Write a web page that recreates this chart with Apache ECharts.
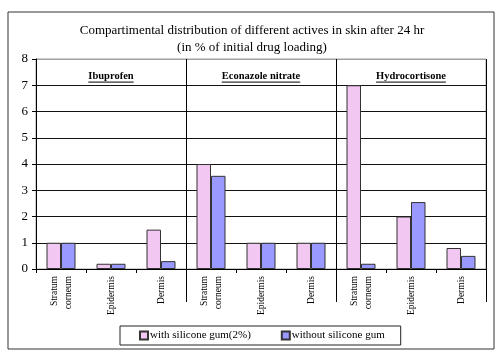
<!DOCTYPE html>
<html><head><meta charset="utf-8">
<script src="https://cdn.jsdelivr.net/npm/echarts@6/dist/echarts.min.js"></script>
<style>html,body{margin:0;padding:0;background:#fff}#c{width:504px;height:355px}</style>
</head><body><div id="c"></div>
<script>
const categories = ['Stratum\ncorneum','Epidermis','Dermis','Stratum\ncorneum','Epidermis','Dermis','Stratum\ncorneum','Epidermis','Dermis'];
const groups = ['Ibuprofen','Econazole nitrate','Hydrocortisone'];
const withGum = [1, 0.2, 1.5, 4, 1, 1, 7, 2, 0.8];
const withoutGum = [1, 0.2, 0.3, 3.55, 1, 1, 0.2, 2.55, 0.5];
const yTicks = [0,1,2,3,4,5,6,7,8];
const seriesNames = ['with silicone gum(2%)','without silicone gum'];

const FONT = 'Liberation Serif, Times New Roman, serif';
const chart = echarts.init(document.getElementById('c'));
const gridColors = yTicks.map((v,i)=> i===yTicks.length-1 ? '#a0a0a0' : '#111');
const sepFn = (i)=> i===3 || i===6;

chart.setOption({
  animation:false,
  backgroundColor:'#fff',
  title:{text:'Compartimental distribution of different actives in skin after 24 hr\n(in % of initial drug loading)',
    left:'center', top:17,
    textStyle:{fontFamily:FONT,fontSize:13,fontWeight:'normal',color:'#000',lineHeight:17}},
  grid:{left:36,right:18,top:59,bottom:86,show:true,borderColor:'#a0a0a0',borderWidth:1},
  legend:{data:seriesNames,left:120,top:326,icon:'rect',
    borderColor:'#222',borderWidth:1,padding:[4,16,4,19],itemGap:30,
    itemWidth:8,itemHeight:8,
    textStyle:{fontFamily:FONT,fontSize:11,color:'#000',padding:[0,0,0,-3]}},
  xAxis:[{type:'category',data:categories,
    axisLine:{lineStyle:{color:'#000'}},
    axisTick:{show:true,length:4,lineStyle:{color:'#000'}},
    splitLine:{show:true,interval:sepFn,lineStyle:{color:'#000'}},
    axisLabel:{rotate:90,fontFamily:FONT,fontSize:9.5,color:'#000',margin:7,lineHeight:14,interval:0}},
   {type:'category',data:categories,position:'bottom',
    axisLine:{show:false},axisLabel:{show:false},
    axisTick:{show:true,interval:sepFn,length:33,lineStyle:{color:'#000'}}}],
  yAxis:{type:'value',min:0,max:8,interval:1,
    axisLine:{show:true,lineStyle:{color:'#000'}},
    axisTick:{show:true,length:4,lineStyle:{color:'#000'}},
    splitLine:{show:true,lineStyle:{color:gridColors}},
    axisLabel:{fontFamily:FONT,fontSize:13,color:'#000',margin:8}},
  series:[
    {name:seriesNames[0],type:'bar',data:withGum,barWidth:14.5,barGap:'0%',
     itemStyle:{color:'#F2C8F2',borderColor:'#333',borderWidth:1}},
    {name:seriesNames[1],type:'bar',data:withoutGum,barWidth:14.5,barGap:'0%',
     itemStyle:{color:'#9999FF',borderColor:'#333',borderWidth:1}}
  ]
});

const ctx = document.createElement('canvas').getContext('2d');
const gFont = 'bold 10.5px ' + FONT;
ctx.font = gFont;
const els = [{type:'rect',shape:{x:8,y:12,width:486,height:337},style:{fill:null,stroke:'#333',lineWidth:1},silent:true}];
groups.forEach((g,i)=>{
  const p = chart.convertToPixel({xAxisIndex:0,yAxisIndex:0},[i*3+1, 7.33]);
  const w = ctx.measureText(g).width;
  els.push({type:'text',x:p[0],y:p[1],style:{text:g,font:gFont,fill:'#000',align:'center',verticalAlign:'middle'}});
  els.push({type:'line',shape:{x1:p[0]-w/2,y1:p[1]+5.5,x2:p[0]+w/2,y2:p[1]+5.5},style:{stroke:'#000',lineWidth:1}});
});
chart.setOption({graphic:els});
</script></body></html>
